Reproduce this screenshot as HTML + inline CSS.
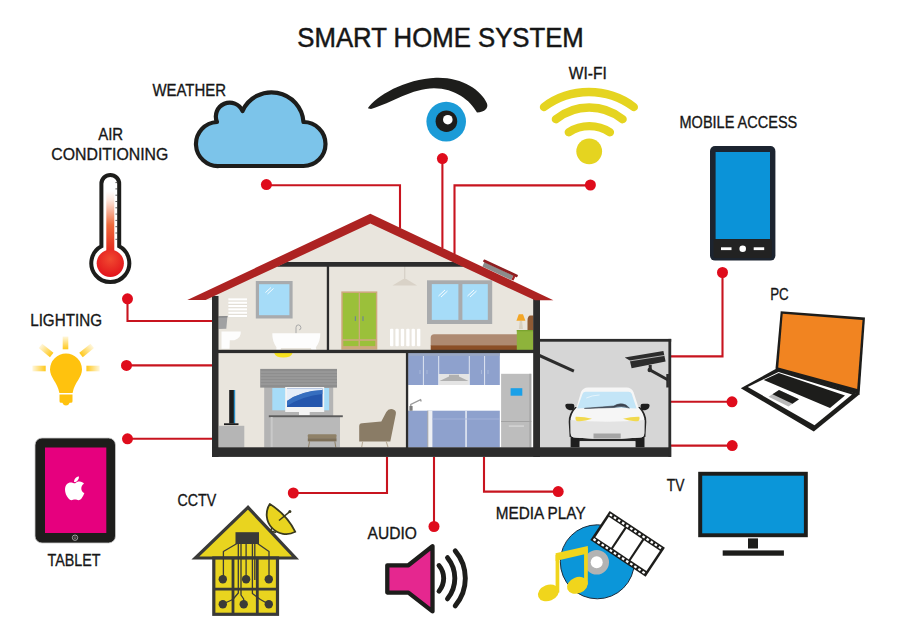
<!DOCTYPE html>
<html><head><meta charset="utf-8"><title>Smart Home System</title>
<style>
html,body{margin:0;padding:0;background:#fff;}
body{width:900px;height:639px;overflow:hidden;}
svg{display:block;}
text{font-family:"Liberation Sans",sans-serif;fill:#161616;stroke:#161616;stroke-width:0.5px;}
.lbl text{font-size:15.8px;stroke-width:0.32px;}
</style></head><body>
<svg width="900" height="639" viewBox="0 0 900 639">
<rect width="900" height="639" fill="#fff"/>
<!-- TITLE -->
<text x="297.300" y="46.600" font-size="27.300" textLength="286.500" lengthAdjust="spacingAndGlyphs">SMART HOME SYSTEM</text>
<!-- LABELS -->
<g class="lbl">
<text x="152.400" y="96" textLength="73.600" lengthAdjust="spacingAndGlyphs">WEATHER</text>
<text x="98.200" y="139.600" textLength="25" lengthAdjust="spacingAndGlyphs">AIR</text>
<text x="51.300" y="160" textLength="117" lengthAdjust="spacingAndGlyphs">CONDITIONING</text>
<text x="568.800" y="79.300" textLength="38" lengthAdjust="spacingAndGlyphs">WI-FI</text>
<text x="679.500" y="128.300" textLength="117.800" lengthAdjust="spacingAndGlyphs">MOBILE ACCESS</text>
<text x="770.200" y="300" textLength="18.500" lengthAdjust="spacingAndGlyphs">PC</text>
<text x="666.700" y="490.700" textLength="17.700" lengthAdjust="spacingAndGlyphs">TV</text>
<text x="495.800" y="518.900" textLength="89.800" lengthAdjust="spacingAndGlyphs">MEDIA PLAY</text>
<text x="367.600" y="538.700" textLength="49.300" lengthAdjust="spacingAndGlyphs">AUDIO</text>
<text x="177.500" y="505.800" textLength="38.700" lengthAdjust="spacingAndGlyphs">CCTV</text>
<text x="47.500" y="566.300" textLength="53" lengthAdjust="spacingAndGlyphs">TABLET</text>
<text x="30.200" y="325.600" textLength="71.800" lengthAdjust="spacingAndGlyphs">LIGHTING</text>
</g>
<!-- CONNECTORS -->
<g id="wires" fill="none" stroke="#c8141f" stroke-width="2.100">
<path d="M266.4 185.2H400V228"/>
<path d="M442.4 158.6V248"/>
<path d="M590.4 185.4H454.5V254"/>
<path d="M722.5 272.5V356.4H671"/>
<path d="M732 401.8H671"/>
<path d="M732.2 445.6H671"/>
<path d="M558.2 491.6H484V456"/>
<path d="M434 526.5V456"/>
<path d="M293.3 493H387V456"/>
<path d="M127.5 438.8H213"/>
<path d="M126.5 365.4H213"/>
<path d="M127.5 298.8V321H213"/>
</g>
<g id="dots" fill="#df0c1c">
<circle cx="266.4" cy="184.6" r="5.500"/><circle cx="442.4" cy="158.6" r="5.500"/><circle cx="590.4" cy="185" r="5.500"/>
<circle cx="722.5" cy="272.5" r="5.500"/><circle cx="732" cy="401.8" r="5.500"/><circle cx="732.2" cy="445.6" r="5.500"/>
<circle cx="558.2" cy="491.6" r="5.500"/><circle cx="434" cy="526.5" r="5.500"/><circle cx="293.3" cy="493" r="5.500"/>
<circle cx="127.5" cy="438.8" r="5.500"/><circle cx="126.5" cy="365.4" r="5.500"/><circle cx="127.5" cy="298.8" r="5.500"/>
</g>
<g id="icons">
<!-- cloud -->
<path d="M219 166 A22 22 0 0 1 217 122 A13.500 13.500 0 0 1 242.500 111 A32 32 0 0 1 303.500 122 A22 22 0 0 1 303.500 166 Z" fill="#7cc4ea" stroke="#1d1d1b" stroke-width="4.200" stroke-linejoin="round"/>
<!-- eye -->
<path d="M367.800 108.300 C376 96 405 79 436 77.800 C462 77 481 90 487 103.500 C488.500 108 485 112 477 112.600 C470 100 455 88.500 434 88.300 C412 88.300 392 103 371 109 Z" fill="#1d1d1b"/>
<circle cx="446.200" cy="121.600" r="19.800" fill="#1b9bd7"/>
<circle cx="446.400" cy="121.200" r="10.800" fill="#1d1d1b"/>
<circle cx="447.800" cy="119.700" r="4.800" fill="#fff"/>
<!-- wifi -->
<g fill="none" stroke="#e5d420" stroke-width="8.400" stroke-linecap="round">
<path d="M544 107 A75 75 0 0 1 633.800 107"/>
<path d="M555.900 119.200 A53.400 53.400 0 0 1 622.600 119.200"/>
<path d="M568.800 132.200 A38 38 0 0 1 609.900 132.200"/>
</g>
<circle cx="589.200" cy="151.300" r="12.900" fill="#e5d420"/>
<!-- phone -->
<rect x="710" y="146" width="65.400" height="114.600" rx="5" fill="#1c2430"/>
<rect x="713.500" y="239" width="58.400" height="19" rx="2" fill="#222"/>
<rect x="715.600" y="152" width="54.400" height="87" fill="#0b93d8"/>
<rect x="721" y="247.300" width="10.500" height="2.800" fill="#fff"/>
<rect x="753.700" y="247.300" width="10.500" height="2.800" fill="#fff"/>
<circle cx="742.700" cy="248.700" r="3.300" fill="#fff"/>
<!-- thermometer -->
<defs>
<linearGradient id="thg" x1="0" y1="0" x2="0" y2="1"><stop offset="0" stop-color="#fff"/><stop offset="0.150" stop-color="#fde6dc"/><stop offset="0.550" stop-color="#ef6a3c"/><stop offset="1" stop-color="#e3261d"/></linearGradient>
<radialGradient id="thb" cx="0.500" cy="0.350" r="0.700"><stop offset="0" stop-color="#f04a30"/><stop offset="1" stop-color="#e10f1a"/></radialGradient>
</defs>
<path d="M101.400 183.800 a8.900 8.900 0 0 1 17.800 0 V246.300 a19 19 0 1 1 -17.800 0 Z" fill="#fff" stroke="#1d1d1b" stroke-width="4"/>
<rect x="106.300" y="191" width="8" height="62" fill="url(#thg)"/>
<circle cx="110.300" cy="263.300" r="13.600" fill="url(#thb)"/>
<path d="M115.400 182.6h2.500M115.400 188.9h2.500M115.400 195.2h2.500M115.400 201.5h2.500M115.400 207.8h2.500M115.400 214.1h2.500M115.400 220.4h2.500M115.400 226.7h2.500M115.400 233.0h2.500M115.400 239.3h2.500" stroke="#3a3a3a" stroke-width="0.800"/>

<!-- laptop -->
<polygon points="780.700,311.200 865,317.500 859.500,395 775.500,368.700" fill="#1d1d1b"/>
<polygon points="782.700,313.700 862.500,319.900 857.200,389 778.200,367.600" fill="#f18421"/>
<polygon points="740.8,388.2 777,368.3 859.3,394.600 813.8,431.600" fill="#1d1d1b"/><polygon points="747.8,387 778.5,372 852,394.5 814.5,425.3" fill="#fff"/>
<polygon points="763.700,380 778.700,373 845,395.500 830,408" fill="#1d1d1b"/>
<polygon points="768.500,396.800 779,390 799,399.200 788.500,406.500" fill="#b9b9b9"/>
<polygon points="772.500,394.300 779,390 799,399.200 792.500,403.700" fill="#1d1d1b"/>
<!-- tv -->
<rect x="698.200" y="471.800" width="109.600" height="65.400" fill="#1d1d1b"/>
<rect x="702.200" y="475.700" width="101.700" height="57.600" fill="#0b96d9"/>
<rect x="748" y="538.400" width="10" height="10.100" fill="#1d1d1b"/>
<rect x="722.700" y="550.400" width="61.200" height="5.300" fill="#1d1d1b"/>
<!-- media -->
<circle cx="597.300" cy="561.800" r="37" fill="#0b96d9" stroke="#1d2b3a" stroke-width="1"/>
<circle cx="596.700" cy="562.200" r="12.300" fill="#b3b3b3"/>
<circle cx="596.700" cy="562.200" r="6" fill="#fff"/>
<g transform="translate(609.600 511.100) rotate(33.600)">
<rect x="0" y="0" width="66.400" height="34.800" fill="#1d1d1b"/>
<rect x="2.500" y="5.200" width="19" height="24.400" fill="#fff"/>
<rect x="23.700" y="5.200" width="19" height="24.400" fill="#fff"/>
<rect x="44.900" y="5.200" width="19" height="24.400" fill="#fff"/>
<path d="M2 2.600h63" stroke="#fff" stroke-width="2.200" stroke-dasharray="2.700 2.200"/>
<path d="M2 32.200h63" stroke="#fff" stroke-width="2.200" stroke-dasharray="2.700 2.200"/>
</g>
<g fill="#f0d51c">
<polygon points="555.6,553.3 587.8,546 587.8,553.6 555.6,560.9"/>
<rect x="555.6" y="555" width="3.700" height="37.500"/>
<rect x="584.100" y="548" width="3.700" height="36.500"/>
<ellipse cx="548.4" cy="592.900" rx="10.800" ry="8" transform="rotate(-22 548.4 592.900)"/>
<ellipse cx="577.4" cy="585.300" rx="10.800" ry="8" transform="rotate(-22 577.4 585.300)"/>
</g>
<!-- audio -->
<polygon points="387.3,565.3 408.4,565.3 432.5,546.2 432.5,611.4 408.4,592.6 387.3,592.6" fill="#e5278f" stroke="#1d1d1b" stroke-width="4.3" stroke-linejoin="round"/>
<g fill="none" stroke="#1d1d1b" stroke-width="4.900" stroke-linecap="round">
<path d="M439 565.5 A20 20 0 0 1 439 591.2"/>
<path d="M447.5 557.7 A32.5 32.5 0 0 1 447.5 598.8"/>
<path d="M455.2 550.8 A42.4 42.4 0 0 1 455.2 605.8"/>
</g>
<!-- cctv house -->
<g stroke="#3a3a38" stroke-width="3.200" stroke-linejoin="miter">
<polygon points="248,507.400 195.400,558 295.400,558" fill="#e9d41f"/>
<rect x="213.800" y="558" width="63.700" height="56.300" fill="#e9d41f"/>
<path d="M233 558v56.300M257.300 558v56.300M214 589.200h63.500" fill="none" stroke-width="2.800"/>
</g>
<rect x="235.500" y="532.200" width="23.500" height="11.800" fill="#3a3a38"/>
<g fill="none" stroke="#3a3a38" stroke-width="1.300" stroke-linejoin="round">
<path d="M237 543.500l-13.600 8v27.500"/>
<path d="M257.500 543.500l11.500 8v27.500"/>
<path d="M238.300 544v49l-5.500 6.500-10 4.500"/>
<path d="M241 544v51l2.700 4v5"/>
<path d="M246.100 544v35"/>
<path d="M252.400 544v49.500l8 6 8.400 4.700"/>
<path d="M254.800 544v36"/>
</g>
<g fill="#3a3a38">
<circle cx="222.800" cy="579.300" r="4.200"/><circle cx="246.100" cy="579.300" r="4.200"/><circle cx="268.800" cy="579.300" r="4.200"/>
<circle cx="222.800" cy="604.300" r="4.200"/><circle cx="243.700" cy="604.300" r="4.200"/><circle cx="268.800" cy="604.300" r="4.200"/>
</g>
<path d="M269.800 504 A19.500 19.500 0 0 0 295.300 531.800 Q286.500 514.400 269.800 504Z" fill="#e9d41f" stroke="#39391f" stroke-width="1.800" stroke-linejoin="round"/>
<path d="M279 520.500l10.500-8.700" stroke="#39391f" stroke-width="1.500"/>
<circle cx="289.900" cy="511.400" r="1.500" fill="#39391f"/>
<path d="M272 527.500l-1.500 3.500 5.500 1.500" fill="none" stroke="#39391f" stroke-width="1.500"/>
<!-- tablet -->
<rect x="35" y="438" width="80.500" height="105" rx="7" fill="#1d1d1b" stroke="#c9c9c9" stroke-width="0.800"/>
<rect x="45" y="447.500" width="61.300" height="85.500" fill="#e6007e"/>
<circle cx="75" cy="537.700" r="2.700" fill="none" stroke="#aaa" stroke-width="0.900"/>
<circle cx="75" cy="537.700" r="1" fill="none" stroke="#aaa" stroke-width="0.500"/>
<path d="M75.200 483.300c1.200-1.300 3-2 4.500-1.800 1.800.1 3.300.9 4.300 2.300-1.700 1-2.700 2.600-2.700 4.600 0 2.200 1.200 3.900 3.100 4.700-.6 1.900-1.600 3.800-2.900 5.400-1 1.200-2 1.700-3 1.700-1.100 0-2-.7-3.500-.7s-2.500.7-3.500.7c-1.100 0-2.100-.6-3.200-1.900-2-2.400-3.300-5.700-3.300-8.800 0-4.400 2.800-7 5.800-7 1.600 0 2.900 .8 4.400 .8zM78.900 476.500c.2 1.500-.4 2.900-1.300 3.900-.9 1-2.200 1.700-3.500 1.600-.2-1.400.5-2.900 1.300-3.800 .9-1 2.400-1.700 3.500-1.700z" fill="#fff"/>
<!-- bulb -->
<defs>
<linearGradient id="rayT" x1="0" y1="1" x2="0" y2="0"><stop offset="0" stop-color="#ffc81a"/><stop offset="1" stop-color="#ffc81a" stop-opacity="0.150"/></linearGradient>
<linearGradient id="rayL" x1="1" y1="0" x2="0" y2="0"><stop offset="0" stop-color="#ffc81a"/><stop offset="1" stop-color="#ffc81a" stop-opacity="0.150"/></linearGradient>
<linearGradient id="rayR" x1="0" y1="0" x2="1" y2="0"><stop offset="0" stop-color="#ffc81a"/><stop offset="1" stop-color="#ffc81a" stop-opacity="0.150"/></linearGradient>
</defs>
<rect x="62.700" y="336.500" width="5.600" height="12.800" fill="url(#rayT)"/>
<rect x="32.400" y="365.700" width="13.300" height="5.600" fill="url(#rayL)"/>
<rect x="86.400" y="365.700" width="13.300" height="5.600" fill="url(#rayR)"/>
<rect x="-2.800" y="0" width="5.600" height="14.500" fill="url(#rayT)" transform="translate(51.700 355) rotate(-51)  translate(0 -14.500)"/>
<rect x="-2.800" y="0" width="5.600" height="14.500" fill="url(#rayT)" transform="translate(81 355) rotate(51) translate(0 -14.500)"/>
<path d="M66 353.6a16 16 0 0 1 16 16c0 8-7.300 12.600-9.400 23.400h-13.200c-2.100-10.800-9.400-15.400-9.400-23.400a16 16 0 0 1 16-16z" fill="#ffc20e"/>
<path d="M59.500 394.400h13v6.800q0 1.500-1.500 1.500h-1.300q-1.200 2.900-3.700 2.900t-3.700-2.900h-1.300q-1.500 0-1.500-1.500z" fill="#ffc20e"/>
</g>
<!--ENDICONS-->
<g id="house">
<!-- interior fills -->
<polygon points="204,300 370.3,222.500 536.500,300 540,300 540,457 212,457 212,300" fill="#e9e5dd"/>
<rect x="408.1" y="353" width="125.2" height="94.5" fill="#ffffff"/>
<rect x="540" y="341" width="129" height="107" fill="#d6d6d6"/>
<!-- bathroom -->
<rect x="255.8" y="281" width="36.8" height="37.5" fill="#a9abad"/>
<rect x="259" y="284.2" width="30.4" height="31" fill="#a6dcf8"/>
<path d="M265.5 292.5l5.5-5M267.5 294l6-5.5" stroke="#fff" stroke-width="0.9" fill="none"/>
<rect x="228.300" y="298.300" width="18.700" height="19.300" fill="#e2ded5"/><rect x="228.300" y="298.300" width="18.700" height="2.150" fill="#fff"/><rect x="228.300" y="301.630" width="18.700" height="2.150" fill="#fff"/><rect x="228.300" y="304.960" width="18.700" height="2.150" fill="#fff"/><rect x="228.300" y="308.290" width="18.700" height="2.150" fill="#fff"/><rect x="228.300" y="311.620" width="18.700" height="2.150" fill="#fff"/><rect x="228.300" y="314.950" width="18.700" height="2.150" fill="#fff"/>
<path d="M218.500 316.200l9-.3-1.200 12.800-7.800.2z" fill="#a0a1a2"/><path d="M218.500 316.200l9-.3-.15 1.600-8.850.2z" fill="#8a8b8c"/>
<path d="M221.5 331.6h19.3q.6 6.5-6.5 8.7h-4.5l-.3 8.5h-8z" fill="#fdfdfd"/>
<path d="M296 333.5v-6q0-2.6 2.3-2.6t2.6 2.6q.2 2.3-1.7 2.3" stroke="#a9a9a9" stroke-width="1" fill="none"/>
<path d="M272.300 333.300h48q.200 8-4.500 14.300l.700 2.200h-5l-.700-1.800h-29.600l-.700 1.800h-4.200l.200-2.200q-4.400-6.300-4.200-14.300z" fill="#fdfdfd"/>
<!-- bedroom -->
<rect x="341.3" y="291.4" width="36" height="58.2" fill="#cda97c"/>
<rect x="342.800" y="293" width="15.900" height="46.200" fill="#9bc03a"/>
<rect x="360" y="293" width="15.900" height="46.200" fill="#9bc03a"/>
<rect x="343.300" y="340.800" width="15.200" height="5.300" fill="#9bc03a"/>
<rect x="360" y="340.800" width="15.300" height="5.300" fill="#9bc03a"/>
<path d="M355.400 316.300v4.600M363 316.300v4.600" stroke="#6f8791" stroke-width="1.200"/>
<path d="M404.8 266v13" stroke="#cfc8bd" stroke-width="0.9"/>
<path d="M392.5 285.4l10.8-6.4h3l10.8 6.4z" fill="#d9d2c7"/>
<rect x="390.000" y="328.700" width="3.350" height="17.600" rx="1" fill="#fff"/><rect x="395.400" y="328.700" width="3.350" height="17.600" rx="1" fill="#fff"/><rect x="400.800" y="328.700" width="3.350" height="17.600" rx="1" fill="#fff"/><rect x="406.200" y="328.700" width="3.350" height="17.600" rx="1" fill="#fff"/><rect x="411.600" y="328.700" width="3.350" height="17.600" rx="1" fill="#fff"/><rect x="417.000" y="328.700" width="3.350" height="17.600" rx="1" fill="#fff"/>
<rect x="427" y="280.300" width="65.200" height="43.700" fill="#a9abad"/>
<rect x="431.800" y="284.100" width="26.600" height="35.800" fill="#a6dcf8"/>
<rect x="462.400" y="284.100" width="25.400" height="35.800" fill="#a6dcf8"/>
<path d="M438.5 296l6.5-6M441 297l6.5-6M467.5 296l6.5-6M470 297l6.5-6" stroke="#fff" stroke-width="0.9" fill="none"/>
<!-- bed -->
<path d="M527.5 321q0-5.5 3-5.5h3v35h-6z" fill="#8e5a34"/>
<path d="M430.700 337.800q0-3.500 3.500-3.500h83v11.500h-86.500z" fill="#ae8a71"/>
<rect x="430.700" y="345.300" width="86.500" height="4.700" fill="#8b4f27"/>
<rect x="516.8" y="330" width="16.5" height="20" fill="#8eb33b"/>
<rect x="516.8" y="330" width="16.5" height="1.3" fill="#7aa42f"/>
<path d="M518.8 314.2h4.2l2.4 6.6h-9z" fill="#f3a626"/>
<path d="M519.7 321h2.4l.8 8h-4z" fill="#d8d0c0"/>
<!-- living room -->
<path d="M274.2 353h18.3q-1.2 4.6-9.1 4.6t-9.2-4.6z" fill="#f6e11d"/>
<rect x="264.2" y="386" width="69" height="61.5" fill="#b4b4b4"/>
<rect x="272.3" y="388" width="56.8" height="22.3" fill="#a6dcf8"/>
<rect x="260.2" y="368.9" width="76.8" height="18.7" fill="#8e8e8e"/>
<path d="M260.2 372h76.8M260.2 375h76.8M260.2 378h76.8M260.2 381h76.8M260.2 384h76.8" stroke="#a7a7a7" stroke-width="0.8" fill="none"/>
<rect x="285.2" y="387" width="39" height="25" fill="#f4f4f4"/>
<rect x="287" y="388.5" width="35.5" height="18.5" fill="#2456ad"/>
<path d="M287 388.5h35.5v1.5q-22 1-35.5 11z" fill="#e6eef8"/>
<path d="M287 401q14-10 35.5-11v4q-20 2-35.5 12z" fill="#3f79c6" opacity="0.7"/>
<rect x="299" y="412" width="10.7" height="3.2" fill="#f4f4f4"/>
<rect x="270.7" y="417" width="69.3" height="30.5" fill="#b9b9b9"/>
<rect x="268.8" y="415.3" width="74" height="1.9" fill="#5c5c5c"/>
<rect x="270.7" y="417" width="2" height="30.5" fill="#c9c9c9"/>
<rect x="307.8" y="434.2" width="28.7" height="4" rx="1" fill="#8f8168"/>
<rect x="307.8" y="438.2" width="28.7" height="3.2" fill="#7d6f58"/>
<path d="M309.5 441.4l-1 6M334.8 441.4l1 6" stroke="#8f8168" stroke-width="1"/>
<path d="M359.2 426.2Q359.2 423.4 362 423.2L381.3 421.6L386.3 412Q388.4 408.3 392.6 409.2Q396.7 410.3 395.8 414.2L390.3 441.5H359.2Z" fill="#8a7c66"/>
<path d="M362.8 441l-1.1 6M386 441l2 6" stroke="#b9ad98" stroke-width="1.1"/>
<rect x="229.200" y="390" width="5.800" height="33.500" fill="#1c1c1c"/>
<rect x="233.800" y="390" width="1.400" height="33.500" fill="#2a8fc9"/>
<rect x="224" y="423.300" width="14.500" height="1.800" fill="#1c1c1c"/>
<rect x="219" y="425.800" width="25.300" height="21.700" fill="#b5b5b5"/>
<!-- kitchen -->
<rect x="408.100" y="353" width="91.700" height="32" fill="#8ea1cd"/>
<rect x="408.100" y="353" width="91.700" height="2.800" fill="#9aa7c4"/>
<rect x="438.700" y="374" width="30.600" height="11" fill="#e4e4e4"/>
<path d="M439.500 381l9.500-4.500v-1.800h10v1.800l9.500 4.500z" fill="#b0b0b0"/>
<path d="M423.400 356v29M438.700 356v29M469.300 356v29M484.600 356v29" stroke="#e9edf6" stroke-width="0.9"/>
<path d="M420 370v4M427 370v4M481.500 370v4M488 370v4" stroke="#b3c0df" stroke-width="0.7"/>
<rect x="408.100" y="410.700" width="91.700" height="36.800" fill="#8ea1cd"/>
<rect x="427.900" y="410.700" width="4.500" height="36.800" fill="#eef0f4"/>
<rect x="427.300" y="410.700" width="1" height="36.800" fill="#aaa"/>
<rect x="465.300" y="410.700" width="1.500" height="36.800" fill="#e9edf6"/>
<path d="M432.400 419h67.400" stroke="#a9b8dc" stroke-width="0.8"/>
<path d="M410.800 410.500v-6l9.800-4.800.6 1.800" stroke="#9a9a9a" stroke-width="1.300" fill="none"/>
<rect x="409.400" y="406" width="3.200" height="4.700" fill="#7d7d7d"/>
<rect x="501.100" y="373.800" width="30.200" height="73.700" fill="#bdbdbd"/>
<rect x="529.300" y="373.800" width="2" height="73.700" fill="#a8a8a8"/>
<rect x="501.100" y="421" width="30.200" height="1" fill="#a2a2a2"/>
<rect x="508.800" y="425.300" width="15.200" height="1.600" fill="#d3d3d3"/>
<rect x="510.600" y="388.200" width="11.700" height="7.500" fill="#1aa0e8"/>
<!-- garage -->
<path d="M540 354l34.500 15.800-1.200 2.700-33.300-15z" fill="#2c2c2c"/>
<path d="M624.700 357.500l38.700-6.600 2.200 10.600-34 6.700-1.800-7.600z" fill="#2c2c2c"/>
<path d="M629.3 361l35.500-5.600" stroke="#d6d6d6" stroke-width="0.8"/>
<path d="M650.2 365v5l17.500 9.800" stroke="#2c2c2c" stroke-width="3" fill="none"/><circle cx="649.8" cy="370" r="2.300" fill="#2c2c2c"/>
<rect x="666.300" y="374" width="2.600" height="13.500" fill="#2c2c2c"/>
<!-- car -->
<rect x="570.6" y="434" width="8.9" height="13.3" fill="#1e1e1e"/>
<rect x="635.6" y="434" width="8.9" height="13.3" fill="#1e1e1e"/>
<rect x="579" y="437" width="57" height="4.2" fill="#262626"/>
<rect x="580" y="441.2" width="55" height="6.1" fill="#e0e0e0"/>
<path d="M565.3 405.3q0-1.600 1.800-1.600h5q2.300 0 2.300 2.300l-.8 4.200h-3.800q-4.500-1-4.500-4.900zM649.600 405.300q0-1.600-1.800-1.600h-5q-2.300 0-2.300 2.300l.8 4.200h3.800q4.500-1 4.500-4.900z" fill="#1e1e1e"/>
<path d="M575 407 Q568.200 414 568.700 422 L569.600 437 H645.400 L646.300 422 Q646.800 414 640 407 Z" fill="#252525"/>
<path d="M581 392 Q583 387.500 588 387.500 H626.500 Q631.500 387.500 633.500 392 L638.500 407.500 Q644.700 414 644.500 421.500 L644.300 433 Q644.300 437.500 640 437.500 L620.600 438.800 H593.500 L575 437.500 Q570.700 437.500 570.700 433 L570.500 421.500 Q570.300 414 576.500 407.500 Z" fill="#f6f6f6"/>
<path d="M570.600 420 Q607.500 423.500 644.400 420 L644.300 433 Q644.300 437.500 640 437.500 L620.600 438.800 H593.500 L575 437.500 Q570.700 437.500 570.700 433 Z" fill="#e3e3e3"/>
<path d="M582.600 393.800 Q583.200 391.800 585.800 391.800 H628.500 Q631 391.800 631.700 393.800 L636.600 408.500 Q607.500 406.700 577.200 408.500 Z" fill="#c3e5f7"/>
<path d="M586.300 398 Q592 395.300 599.500 395" stroke="#eef8fd" stroke-width="0.800" fill="none"/>
<path d="M584.400 408.400 L613.800 406 Q620 402.300 626 405 L629.400 408 Q621 405.300 613.800 407.500 Z" fill="#3d4450" stroke="#3d4450" stroke-width="0.600"/>
<path d="M575.600 416.800 Q584 416.600 592 418.800 Q584 421.800 576.500 421 Q574.800 419 575.600 416.800 Z" fill="#f1d94e"/>
<path d="M639.400 416.800 Q631 416.600 623 418.800 Q631 421.800 638.500 421 Q640.200 419 639.400 416.800 Z" fill="#f1d94e"/>
<rect x="593.500" y="433.500" width="27.200" height="5" fill="#a5a5a5"/>
<!-- structure -->
<g fill="#2c2c2c">
<rect x="212" y="296" width="6.500" height="161"/>
<rect x="533.200" y="298" width="6.800" height="159"/>
<polygon points="286.500,262 454,262 464,266.700 276.500,266.700"/>
<rect x="326.800" y="266" width="2.300" height="85"/>
<rect x="218" y="349.800" width="316" height="3.300"/>
<rect x="405.900" y="353" width="2.300" height="95"/>
<rect x="212" y="447.300" width="459.200" height="9.600"/>
<rect x="540" y="338.900" width="131.200" height="2.800"/>
<rect x="668.400" y="338.900" width="2.800" height="118"/>
</g>
<!-- solar panel -->
<g transform="translate(484 266.700) rotate(24.900)">
<rect x="-1.500" y="-4.400" width="31.800" height="5" fill="#8c8c8c"/>
<rect x="-3.200" y="-6.800" width="37.700" height="2.700" rx="0.800" fill="#8f1e20"/>
<rect x="30.300" y="-4.300" width="2.300" height="4.500" fill="#a32022"/>
</g>
<!-- roof -->
<polygon points="187.300,300 370.300,213.800 553.400,300.300 535,300.300 370.300,223.600 205.600,300" fill="#ad2322"/>
</g>
<!--ENDHOUSE-->
</svg>
</body></html>
